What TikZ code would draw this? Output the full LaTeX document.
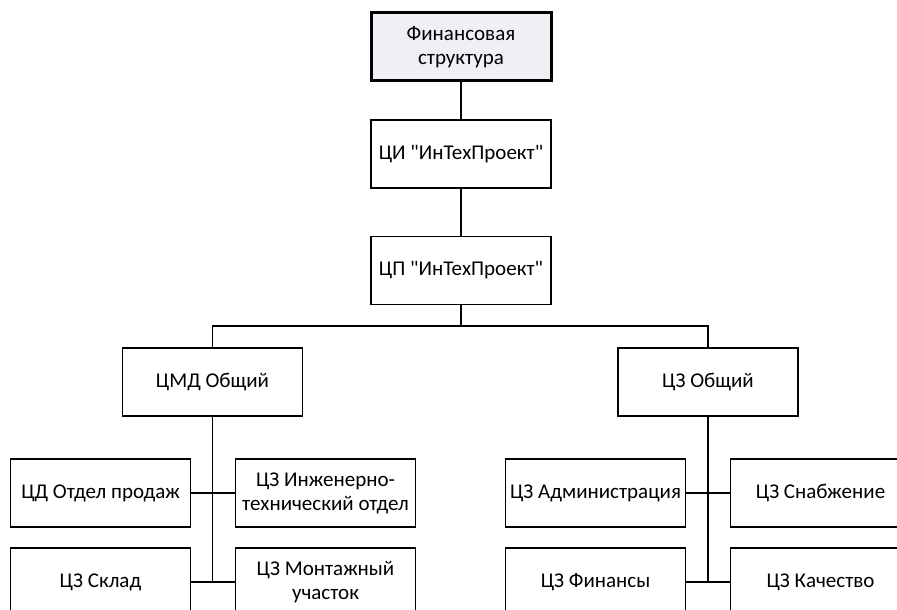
\documentclass[tikz,border=0pt]{standalone}
\usepackage{fontspec}
\setmainfont{Carlito}
\usepackage{tikz}
\definecolor{finfill}{RGB}{238, 240, 245}
\definecolor{lblack}{RGB}{0, 0, 0}
\newcommand{\qq}[1]{\textquotedbl#1\textquotedbl}
\tikzset{blk/.style = {draw = lblack, line width = 1.3pt, minimum width = 180pt, minimum height = 68pt, align = center, font = \fontsize{21}{24}\selectfont, inner sep = 1pt}}

\begin{document}
\begin{tikzpicture}[x = 1pt, y = -1pt, line width = 1.3pt]
			\useasboundingbox (0,0) rectangle (897,610);
			\node (fin) at (461,47) [blk, fill = finfill, line width = 3pt] {Финансовая\\структура};
			\node (ci) at (461,154) [blk] {ЦИ \qq{ИнТехПроект}};
			\node (cp) at (461,270.5) [blk] {ЦП \qq{ИнТехПроект}};
			\node (cmd) at (212.5,382) [blk] {ЦМД Общий};
			\node (cz) at (708,382) [blk] {ЦЗ Общий};
			\node (prod) at (100.5,493) [blk] {ЦД Отдел продаж};
			\node (inzh) at (325.5,493) [blk] {ЦЗ Инженерно-\\технический отдел};
			\node (sklad) at (100.5,582) [blk] {ЦЗ Склад};
			\node (mont) at (325.5,582) [blk] {ЦЗ Монтажный\\участок};
			\node (adm) at (595.5,493) [blk] {ЦЗ Администрация};
			\node (snab) at (820.5,493) [blk] {ЦЗ Снабжение};
			\node (fins) at (595.5,582) [blk] {ЦЗ Финансы};
			\node (kach) at (820.5,582) [blk] {ЦЗ Качество};
			\coordinate (split) at (461,326);
			\coordinate (lend) at (212.5,582);
			\coordinate (rend) at (708,582);
			\draw (fin) edge (ci);
			\draw (ci) edge (cp);
			\draw (cp.south) -- (split);
			\draw (split) -| (cmd.north);
			\draw (split) -| (cz.north);
			\draw (cmd.south) -- (lend);
			\draw (cz.south) -- (rend);
			\draw (prod) edge (inzh);
			\draw (sklad) edge (mont);
			\draw (adm) edge (snab);
			\draw (fins) edge (kach);
\end{tikzpicture}
\end{document}
